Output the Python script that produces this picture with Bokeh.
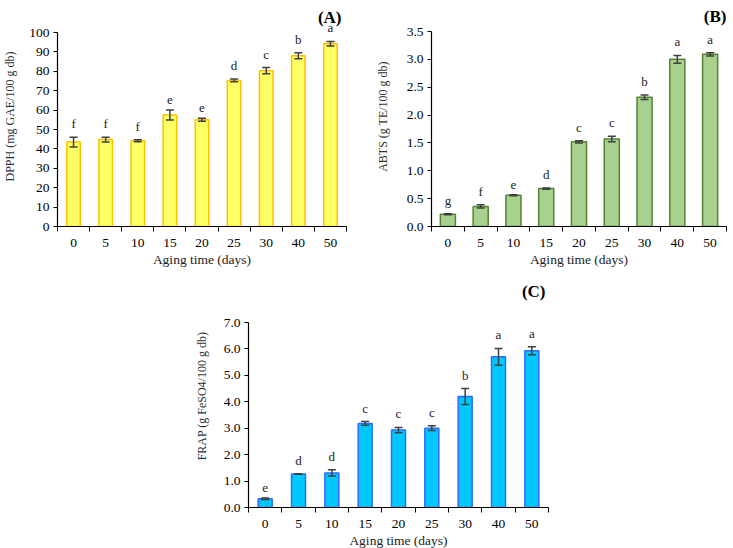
import numpy as np
from bokeh.plotting import figure
from bokeh.layouts import column, row, Spacer
from bokeh.models import (ColumnDataSource, FixedTicker, Whisker, TeeHead,
                          Range1d, LabelSet, Label, NumeralTickFormatter)
from bokeh.embed import file_html
from bokeh.resources import INLINE

days = ["0", "5", "10", "15", "20", "25", "30", "40", "50"]

dpph = [43.5, 44.8, 44.2, 57.5, 55.0, 75.3, 80.3, 88.0, 94.2]
dpph_err = [2.5, 1.2, 0.5, 2.6, 0.8, 0.7, 1.6, 1.5, 1.2]
dpph_letters = ["f", "f", "f", "e", "e", "d", "c", "b", "a"]

abts = [0.22, 0.36, 0.56, 0.68, 1.52, 1.57, 2.32, 3.00, 3.09]
abts_err = [0.01, 0.03, 0.01, 0.01, 0.02, 0.05, 0.04, 0.07, 0.03]
abts_letters = ["g", "f", "e", "d", "c", "c", "b", "a", "a"]

frap = [0.33, 1.27, 1.31, 3.18, 2.93, 3.00, 4.20, 5.70, 5.93]
frap_err = [0.03, 0.01, 0.12, 0.07, 0.10, 0.09, 0.30, 0.32, 0.15]
frap_letters = ["e", "d", "d", "c", "c", "c", "b", "a", "a"]

SERIF = "Liberation Serif"


def panel(vals, errs, letters, ymax, ystep, fmt, ylabel, tag, fill, line,
          fw, axis_px, top_pad, bl, br, bt, bb, bar_w, lab_off, tag_dx,
          tag_dy, ylab_standoff):
    n = len(days)
    xs = [i + 0.5 for i in range(n)]
    src = ColumnDataSource(dict(
        x=xs, top=vals,
        upper=[v + e for v, e in zip(vals, errs)],
        lower=[v - e for v, e in zip(vals, errs)],
        letter=letters,
    ))
    fh = axis_px + top_pad
    yend = ymax * fh / axis_px
    p = figure(frame_width=fw, frame_height=fh, output_backend="svg",
               toolbar_location=None, x_range=Range1d(0, n),
               y_range=Range1d(0, yend),
               min_border_left=bl, min_border_right=br,
               min_border_top=bt, min_border_bottom=bb)
    p.outline_line_color = None
    p.grid.visible = False
    p.background_fill_color = "white"
    p.border_fill_color = "white"

    p.vbar(x="x", top="top", width=bar_w, source=src, fill_color=fill,
           line_color=line, line_width=1.5)
    w = Whisker(base="x", upper="upper", lower="lower", source=src,
                line_color="#404040", line_width=1.5, level="overlay",
                upper_head=TeeHead(size=8, line_color="#404040", line_width=1.5),
                lower_head=TeeHead(size=8, line_color="#404040", line_width=1.5))
    p.add_layout(w)
    labels = LabelSet(x="x", y="upper", text="letter", source=src,
                      text_align="center", text_baseline="bottom",
                      y_offset=lab_off, text_font=SERIF,
                      text_font_size="13px", text_color="#222222")
    p.add_layout(labels)

    p.add_layout(Label(x=n, y=yend, text=tag, text_align="right",
                       text_baseline="top", x_offset=tag_dx, y_offset=tag_dy,
                       text_font=SERIF, text_font_size="17px",
                       text_font_style="bold", text_color="black"))

    xa = p.xaxis[0]
    xa.ticker = FixedTicker(ticks=xs, minor_ticks=list(range(n + 1)))
    xa.major_label_overrides = {x: d for x, d in zip(xs, days)}
    xa.major_tick_in = 0
    xa.major_tick_out = 0
    xa.minor_tick_in = 0
    xa.minor_tick_out = 5
    xa.minor_tick_line_color = "black"
    xa.axis_line_color = "black"
    xa.axis_line_width = 1.2
    xa.major_label_text_font = SERIF
    xa.major_label_text_font_size = "13.5px"
    xa.major_label_text_color = "black"
    xa.major_label_standoff = 7
    xa.axis_label = "Aging time (days)"
    xa.axis_label_text_font = SERIF
    xa.axis_label_text_font_size = "13.5px"
    xa.axis_label_text_font_style = "normal"
    xa.axis_label_text_color = "#222222"
    xa.axis_label_standoff = 2

    ya = p.yaxis[0]
    ya.bounds = (0, ymax)
    ya.ticker = FixedTicker(ticks=list(np.arange(0, ymax + ystep / 2, ystep)))
    ya.formatter = NumeralTickFormatter(format=fmt)
    ya.major_tick_in = 0
    ya.major_tick_out = 4
    ya.minor_tick_out = 0
    ya.minor_tick_in = 0
    ya.axis_line_color = "black"
    ya.axis_line_width = 1.2
    ya.major_label_text_font = SERIF
    ya.major_label_text_font_size = "13.5px"
    ya.major_label_text_color = "black"
    ya.major_label_standoff = 4
    ya.axis_label = ylabel
    ya.axis_label_text_font = SERIF
    ya.axis_label_text_font_size = "12px"
    ya.axis_label_text_font_style = "normal"
    ya.axis_label_text_color = "#333333"
    ya.axis_label_standoff = ylab_standoff
    return p


pA = panel(dpph, dpph_err, dpph_letters, 100, 10, "0",
           "DPPH (mg GAE/100 g db)", "(A)", "#FFFF66", "#FFC000",
           fw=289, axis_px=194, top_pad=26, bl=57, br=15, bt=6, bb=44,
           bar_w=0.42, lab_off=6, tag_dx=-5, tag_dy=-1, ylab_standoff=9)
pB = panel(abts, abts_err, abts_letters, 3.5, 0.5, "0.0",
           "ABTS (g TE/100 g db)", "(B)", "#A9D18E", "#548235",
           fw=295, axis_px=195, top_pad=25, bl=70, br=6, bt=5, bb=45,
           bar_w=0.46, lab_off=6, tag_dx=0, tag_dy=0, ylab_standoff=14)
pC = panel(frap, frap_err, frap_letters, 7.0, 1.0, "0.0",
           "FRAP (g FeSO4/100 g db)", "(C)", "#00C8FF", "#2F6BFF",
           fw=300, axis_px=185, top_pad=38, bl=64, br=10, bt=14, bb=40,
           bar_w=0.42, lab_off=6, tag_dx=-3, tag_dy=3, ylab_standoff=12)

layout = column(row(pA, pB), row(Spacer(width=184), pC))
open("out.html", "w").write(file_html(layout, INLINE))
